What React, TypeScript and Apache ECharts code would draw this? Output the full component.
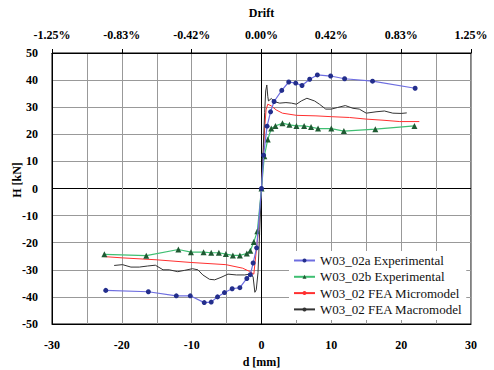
import React, { useEffect, useRef } from "react";
import * as echarts from "echarts";

const xTicks = [-30, -20, -10, 0, 10, 20, 30];
const driftLabels = ["-1.25%", "-0.83%", "-0.42%", "0.00%", "0.42%", "0.83%", "1.25%"];
const yTicks = [-50, -40, -30, -20, -10, 0, 10, 20, 30, 40, 50];

const seriesNames = [
  "W03_02a Experimental",
  "W03_02b Experimental",
  "W03_02 FEA Micromodel",
  "W03_02 FEA Macromodel",
];

const expA = [
  [-22.3, -37.6], [-16.2, -38.1], [-12.2, -39.6], [-10.2, -39.6], [-8.2, -42.1], [-7.2, -41.9],
  [-6.3, -40.0], [-5.3, -38.4], [-4.2, -37.0], [-3.1, -36.6], [-2.1, -33.2], [-1.6, -31.8],
  [-1.2, -27.5], [-0.7, -21.9], [0, 0], [0.3, 12.3], [0.8, 23], [1.3, 28.3], [1.8, 32.1],
  [2.9, 36.2], [3.9, 39.3], [4.9, 38.9], [5.8, 38.0], [6.9, 40.3], [8.0, 41.9], [9.9, 41.5],
  [11.9, 40.5], [15.9, 39.6], [22.0, 37.0],
];

const expB = [
  [-22.5, -24.3], [-16.5, -24.8], [-11.9, -22.5], [-10.1, -23.5], [-8.3, -23.5], [-7.2, -23.7],
  [-6.1, -23.7], [-5.1, -24.2], [-4.1, -24.7], [-3.1, -24.7], [-2.1, -24.0], [-1.6, -23.0],
  [-1.1, -19.7], [-0.6, -15.8], [0, 0], [0.4, 11.9], [0.9, 18.1], [1.4, 22.1], [2.0, 23.1],
  [3.0, 24.1], [4.0, 23.5], [5.0, 23.1], [6.1, 23.1], [7.1, 22.7], [8.1, 22.1], [10.0, 22.1],
  [11.8, 21.2], [16.3, 21.9], [21.9, 23.1],
];

const micro = [
  [-22.7, -25.1], [-19.9, -25.6], [-15.1, -26.3], [-10.1, -27.3], [-5.1, -28.1], [-2.7, -29.4],
  [-1.7, -30.6], [-1.1, -31.6], [-0.5, -17], [0, 0], [0.2, 10], [0.45, 22], [0.65, 29],
  [0.9, 31.1], [1.4, 30.5], [2.1, 29.0], [3.0, 27.8], [5.0, 27.0], [7.8, 26.8], [10, 26.5],
  [12.6, 26.2], [15, 25.6], [17.4, 25.2], [19.8, 24.7], [22.6, 24.7],
];

const macro = [
  [-21.1, -28.4], [-19.9, -28.1], [-18.7, -29], [-17.5, -29], [-16.3, -28.6], [-15.2, -28.3],
  [-14.1, -30], [-13.2, -30], [-12, -30.7], [-11, -30.2], [-9.9, -29.6], [-9.1, -30],
  [-8.4, -31.9], [-7.45, -33.5], [-6.7, -33.7], [-5.8, -32.8], [-4.8, -31.6], [-3.6, -31.9],
  [-2.4, -31.9], [-1.5, -31.5], [-1.2, -32.7], [-0.95, -38.3], [-0.75, -37.4], [-0.5, -31],
  [-0.25, -15], [0, 0], [0.25, 15], [0.45, 28], [0.6, 36], [0.76, 38.2], [0.9, 34], [1.0, 32.3],
  [1.4, 33.2], [1.9, 32], [2.6, 31.5], [3.5, 31.7], [4.3, 31.5], [5.0, 31.1], [5.7, 32.3],
  [6.5, 33.3], [7.6, 32.3], [8.3, 31.1], [9.2, 29.3], [10, 29.3], [10.9, 29.9], [12, 30.6],
  [13.1, 29.6], [14, 29.3], [15, 27.8], [16.4, 28.3], [17.6, 28.6], [18.8, 27.8], [20, 27.7],
  [20.8, 27.9],
];

const FONT = "Liberation Serif";
const GRID = "#999";

export default function App() {
  const ref = useRef<HTMLDivElement>(null);
  useEffect(() => {
    if (!ref.current) return;
    const chart = echarts.init(ref.current, null, { renderer: "svg" });
    const xColors = xTicks.map((v) => (v === 0 ? "#000" : GRID));
    const yColors = yTicks.map((v) => (v === 0 ? "#000" : GRID));
    const boldText = { fontFamily: FONT, fontWeight: "bold", fontSize: 12, color: "#000" };
    chart.setOption({
      animation: false,
      backgroundColor: "#fff",
      grid: {
        left: 52, right: 23, top: 53, bottom: 46,
        containLabel: false,
        outerBoundsMode: "none",
        show: true, borderColor: "#000", borderWidth: 1, backgroundColor: "transparent",
      },
      legend: {
        orient: "vertical",
        left: 289,
        top: 251,
        width: 178,
        padding: [3, 4, 4, 4],
        itemGap: 3.3,
        itemWidth: 21,
        itemHeight: 5,
        backgroundColor: "#fff",
        textStyle: { fontFamily: FONT, fontSize: 13, color: "#111", lineHeight: 13 },
        data: seriesNames,
      },
      xAxis: [
        {
          type: "value",
          position: "bottom",
          min: -30,
          max: 30,
          interval: 10,
          axisLine: { onZero: false, lineStyle: { color: "#000", width: 1 } },
          axisTick: { show: false },
          axisLabel: { ...boldText, margin: 15 },
          splitLine: { show: true, lineStyle: { color: xColors, width: 1 } },
          minorTick: { show: false, splitNumber: 2 },
          minorSplitLine: { show: true, lineStyle: { color: GRID, width: 1 } },
          name: "d [mm]",
          nameLocation: "middle",
          nameGap: 31,
          nameTextStyle: boldText,
        },
        {
          type: "value",
          position: "top",
          min: -30,
          max: 30,
          interval: 10,
          axisLine: { onZero: false, lineStyle: { color: "#000", width: 1 } },
          axisTick: { show: true, length: 4, lineStyle: { color: "#000" } },
          axisLabel: {
            ...boldText,
            margin: 12,
            formatter: (v: number) => driftLabels[xTicks.indexOf(v)] ?? "",
          },
          splitLine: { show: false },
          name: "Drift",
          nameLocation: "middle",
          nameGap: 34,
          nameTextStyle: boldText,
        },
      ],
      yAxis: {
        type: "value",
        min: -50,
        max: 50,
        interval: 10,
        axisLine: { show: true, onZero: false, lineStyle: { color: "#000", width: 1 } },
        axisTick: { show: false },
        axisLabel: { ...boldText, margin: 14 },
        splitLine: { show: true, lineStyle: { color: yColors, width: 1 } },
      },
      graphic: [
        {
          type: "text",
          x: 17,
          y: 180,
          rotation: Math.PI / 2,
          style: {
            text: "H [kN]",
            align: "center",
            verticalAlign: "middle",
            fontFamily: FONT,
            fontWeight: "bold",
            fontSize: 12,
            fill: "#000",
          },
        },
      ],
      series: [
        {
          name: seriesNames[0],
          type: "line",
          data: expA,
          symbol: "circle",
          symbolSize: 5,
          itemStyle: { color: "#232e8c" },
          lineStyle: { color: "#6e6ee0", width: 1.2 },
          z: 4,
        },
        {
          name: seriesNames[1],
          type: "line",
          data: expB,
          symbol: "triangle",
          symbolSize: 6,
          itemStyle: { color: "#1e5a32" },
          lineStyle: { color: "#3fbf72", width: 1.2 },
          z: 3,
        },
        {
          name: seriesNames[2],
          type: "line",
          data: micro,
          symbol: "none",
          showSymbol: false,
          itemStyle: { color: "#ff3030" },
          lineStyle: { color: "#ff3030", width: 1 },
          z: 2,
        },
        {
          name: seriesNames[3],
          type: "line",
          data: macro,
          symbol: "none",
          showSymbol: false,
          itemStyle: { color: "#333" },
          lineStyle: { color: "#333", width: 1 },
          z: 2,
        },
      ],
    });
    return () => chart.dispose();
  }, []);
  return <div ref={ref} style={{ width: 494, height: 370, position: "absolute", left: 0, top: 0 }} />;
}
